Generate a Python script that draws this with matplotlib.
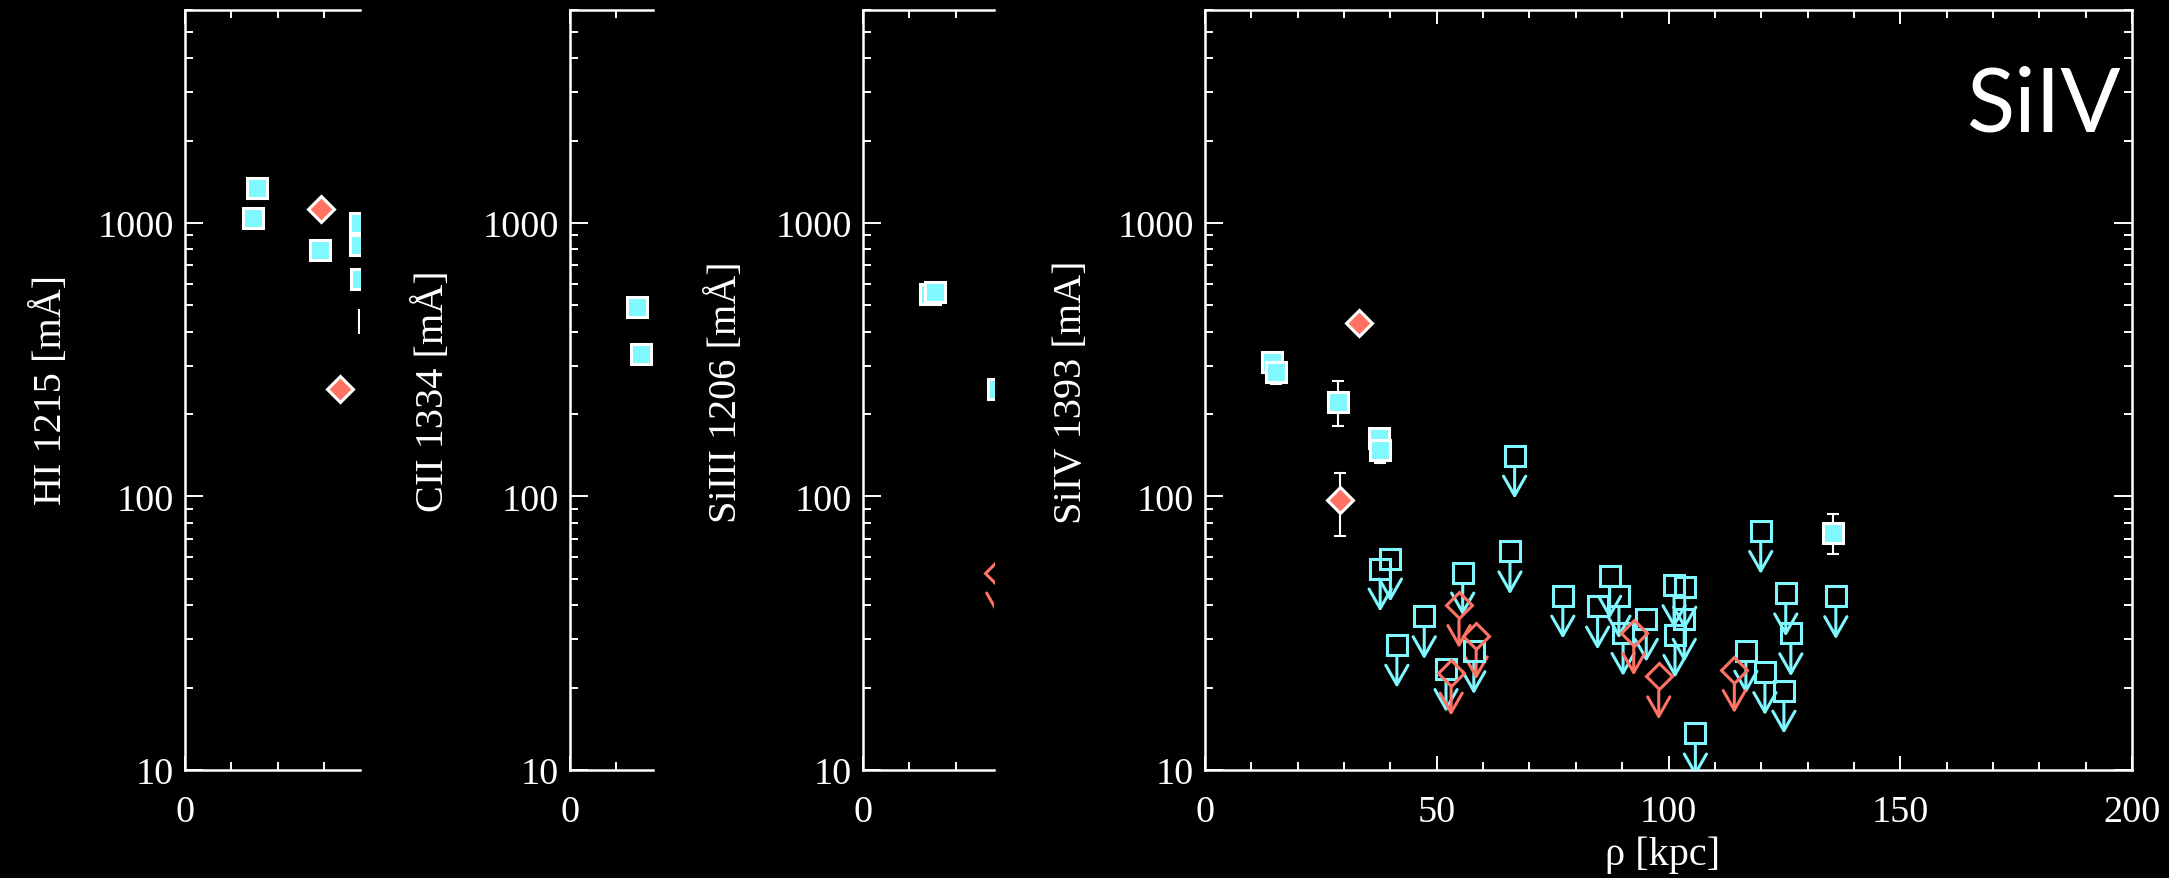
import numpy as np
import matplotlib
matplotlib.use('Agg')
import matplotlib.pyplot as plt
from matplotlib.ticker import LogLocator, NullFormatter, MultipleLocator

W, H = 2169, 879
CYAN = '#80F8FF'
RED = '#FF7264'

# HI 1215 (only the inner part of the panel is shown)
hi_det_rho = [15.6, 14.6, 29.1, 37.9, 37.7, 38.1]
hi_det_w = [1346, 1045, 795, 1000, 828, 625]
hi_red_rho = [29.3, 33.5]
hi_red_w = [1122, 246]
hi_err_rho = [37.6]
hi_err_lo = [392]
hi_err_hi = [483]

# CII 1334
cii_det_rho = [14.4, 15.4]
cii_det_w = [494, 331]

# SiIII 1206
siiii_det_rho = [14.5, 15.5, 29.2]
siiii_det_w = [548, 560, 247]
siiii_redlim_rho = [29.1]
siiii_redlim_w = [52.7]

# SiIV 1393
siiv_det_rho = [14.4, 15.4, 28.8, 37.6, 37.8, 135.5]
siiv_det_w = [309, 284, 222, 163, 148, 73.8]
siiv_det_lo = [300, 257, 181, 155, 132, 61.5]
siiv_det_hi = [318, 312, 265, 172, 165, 86.1]
siiv_red_rho = [33.2, 29.2]
siiv_red_w = [429, 96.8]
siiv_red_lo = [420, 71.8]
siiv_red_hi = [438, 121.6]
siiv_lim_rho = [40.0, 37.8, 47.3, 41.4, 55.6, 65.8, 52.0, 58.0, 66.8,
                77.2, 87.3, 89.3, 84.7, 95.2, 90.2, 101.2, 103.5, 103.4,
                101.4, 105.8, 119.9, 125.3, 126.4, 116.7, 120.8, 124.9, 136.1]
siiv_lim_w = [59.3, 54.5, 36.5, 28.7, 52.7, 63.0, 23.4, 27.2, 141,
              43.4, 51.3, 43.4, 39.6, 35.7, 31.7, 47.4, 46.8, 35.7,
              31.2, 13.6, 74.8, 44.2, 31.6, 27.3, 22.8, 19.5, 43.2]
siiv_redlim_rho = [54.8, 58.5, 53.1, 92.5, 97.9, 114.2]
siiv_redlim_w = [40.1, 30.8, 22.7, 31.8, 22.0, 23.2]

xtick_vals = [0, 50, 100, 150, 200]
xtick_text = ['0', '50', '100', '150', '200']
ytick_vals = [10, 100, 1000]
ytick_text = ['10', '100', '1000']

plt.rcParams['font.family'] = ['Liberation Serif', 'DejaVu Serif']

fig = plt.figure(figsize=(W / 100, H / 100), dpi=100, facecolor='black')


def box(x0, x1, y0=11, y1=771):
    return [x0 / W, 1 - y1 / H, (x1 - x0) / W, (y1 - y0) / H]


def at(x, y):
    return x / W, 1 - y / H


def style_axes(ax, xmax, right_spine):
    ax.set_facecolor('black')
    ax.set_yscale('log')
    ax.set_xticks(xtick_vals)
    ax.set_xticklabels(xtick_text)
    ax.set_yticks(ytick_vals)
    ax.set_yticklabels(ytick_text)
    ax.xaxis.set_minor_locator(MultipleLocator(10))
    ax.yaxis.set_minor_locator(LogLocator(base=10, subs=range(2, 10)))
    ax.yaxis.set_minor_formatter(NullFormatter())
    ax.set_xlim(0, xmax)
    ax.set_ylim(10, 6000)
    for sp in ax.spines.values():
        sp.set_color('white')
        sp.set_linewidth(1.8)
    ax.spines['right'].set_visible(right_spine)
    ax.tick_params(which='both', direction='in', colors='white', top=True,
                   right=right_spine, width=1.4)
    ax.tick_params(axis='x', which='major', length=10, pad=18, labelsize=27.5)
    ax.tick_params(axis='x', which='minor', length=5.5)
    ax.tick_params(axis='y', which='major', length=13, pad=8, labelsize=27.5)
    ax.tick_params(axis='y', which='minor', length=6)


def detections(ax, rho, w, color, marker, ms):
    ax.plot(rho, w, ls='none', marker=marker, ms=ms, mfc=color, mec='white',
            mew=2.2, zorder=4)


def errors(ax, rho, w, lo, hi):
    yerr = [np.subtract(w, lo), np.subtract(hi, w)]
    ax.errorbar(rho, w, yerr=yerr, fmt='none', ecolor='white', elinewidth=1.5,
                capsize=4.3, capthick=1.5, zorder=3)


def limits(ax, rho, w, color, marker, ms, drop):
    ax.plot(rho, w, ls='none', marker=marker, ms=ms, mfc='none', mec=color,
            mew=2.2, zorder=5)
    for x, y in zip(rho, w):
        ann = ax.annotate('', xy=(x, y), xytext=(0, -31), textcoords='offset points',
                          annotation_clip=False,
                          arrowprops=dict(arrowstyle='<-, head_length=0.7, head_width=0.4',
                                          color=color, lw=2.2, shrinkA=0, shrinkB=drop,
                                          mutation_scale=20))
        ann.arrow_patch.set_clip_box(ax.bbox)
        ann.arrow_patch.set_zorder(5)


SQ = 15
DM = 13

ax1 = fig.add_axes(box(185, 360))
style_axes(ax1, 175 / 4.63, False)
ax1.vlines(hi_err_rho, hi_err_lo, hi_err_hi, color='white', lw=1.5, zorder=3)
detections(ax1, hi_det_rho, hi_det_w, CYAN, 's', SQ)
detections(ax1, hi_red_rho, hi_red_w, RED, 'D', DM)

ax2 = fig.add_axes(box(570, 653))
style_axes(ax2, 83 / 4.63, False)
detections(ax2, cii_det_rho, cii_det_w, CYAN, 's', SQ)

ax3 = fig.add_axes(box(863, 994))
style_axes(ax3, 131 / 4.63, False)
detections(ax3, siiii_det_rho, siiii_det_w, CYAN, 's', SQ)
limits(ax3, siiii_redlim_rho, siiii_redlim_w, RED, 'D', DM, 10.5)

ax4 = fig.add_axes(box(1205, 2132))
style_axes(ax4, 200, True)
errors(ax4, siiv_det_rho, siiv_det_w, siiv_det_lo, siiv_det_hi)
errors(ax4, siiv_red_rho, siiv_red_w, siiv_red_lo, siiv_red_hi)
limits(ax4, siiv_lim_rho, siiv_lim_w, CYAN, 's', SQ, 8.5)
limits(ax4, siiv_redlim_rho, siiv_redlim_w, RED, 'D', DM, 10.5)
detections(ax4, siiv_det_rho, siiv_det_w, CYAN, 's', SQ)
detections(ax4, siiv_red_rho, siiv_red_w, RED, 'D', DM)

label_kw = dict(color='white', fontsize=29, rotation=90, ha='center', va='center')
fig.text(*at(51, 390), 'HI 1215 [mÅ]', **label_kw)
fig.text(*at(433, 391), 'CII 1334 [mÅ]', **label_kw)
fig.text(*at(726, 392), 'SiIII 1206 [mÅ]', **label_kw)
fig.text(*at(1072, 392), 'SiIV 1393 [mA]', **label_kw)
fig.text(*at(1663, 855), 'ρ [kpc]', color='white', fontsize=29, ha='center', va='center')
fig.text(*at(2121, 132), 'SiIV', color='white', fontsize=64, family='Lato',
         ha='right', va='baseline')

fig.savefig('out.png', dpi=100, facecolor='black')
